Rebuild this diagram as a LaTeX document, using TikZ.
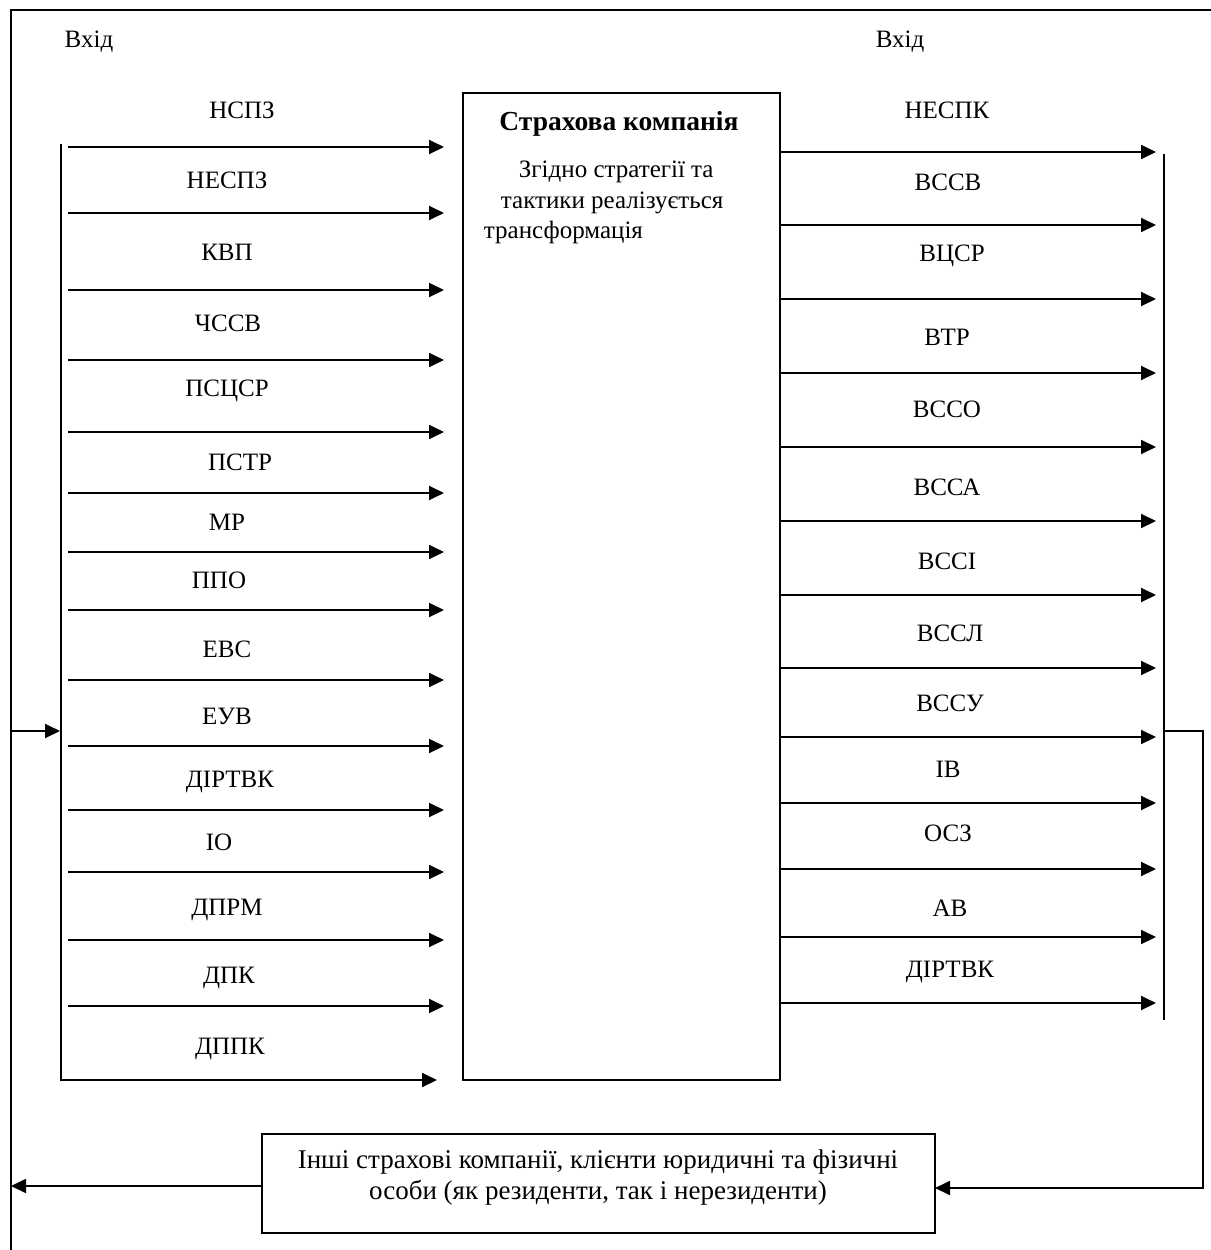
\documentclass[tikz,border=0pt]{standalone}
\usepackage{fontspec}
\setmainfont{Liberation Serif}
\usetikzlibrary{arrows.meta}
\begin{document}
\begin{tikzpicture}[x=1pt,y=-1pt,line width=1.9pt,
  arr/.style={-{Triangle[length=15pt,width=14pt]}},
  lbl/.style={font=\fontsize{25}{31}\selectfont,inner sep=0pt,anchor=base},
  boxst/.style={draw,line width=1.9pt,inner sep=0pt,outer sep=0pt}]
\useasboundingbox (0,0) rectangle (1210,1250);
% outer frame
\coordinate (frR) at (1212,10);
\coordinate (frC) at (11,10);
\coordinate (frB) at (11,1252);
\draw[line width=2.3pt] (frR) -- (frC) -- (frB);
% titles
\node[lbl] (inL) at (89,47) {Вхід};
\node[lbl] (inR) at (900,47) {Вхід};
% central box
\node[boxst,minimum width=317pt,minimum height=987pt,anchor=north west] (sk) at (463,93) {};
\node[lbl,font=\fontsize{27.5}{31}\selectfont\bfseries] (title) at (619,130) {Страхова компанія};
\node[lbl,anchor=base west] (t1) at (518,177) {Згідно стратегії та};
\node[lbl,anchor=base west] (t2) at (500,208) {тактики реалізується};
\node[lbl,anchor=base west] (t3) at (483,238) {трансформація};
% left labels
\foreach \t/\x/\b [count=\i] in {НСПЗ/242/118,НЕСПЗ/227/188,КВП/227/260,ЧССВ/228/331,ПСЦСР/227/396,ПСТР/240/470,МР/227/530,ППО/219/588,ЕВС/227/657,ЕУВ/227/724,ДІРТВК/230/787,ІО/219/850,ДПРМ/227/915,ДПК/229/983,ДППК/230/1054}
  {\node[lbl] (L\i) at (\x,\b) {\t};}
% left arrows
\foreach \y [count=\i] in {147,213,290,360,432,493,552,610,680,746,810,872,940,1006}
  {\coordinate (la\i) at (68,\y); \coordinate (lb\i) at (444,\y);
   \draw[arr] (la\i) -- (lb\i);}
\coordinate (lbusT) at (61,144);
\coordinate (lbusB) at (61,1080);
\coordinate (lbusE) at (437,1080);
\draw[arr] (lbusT) -- (lbusB) -- (lbusE);
% right labels
\foreach \t/\x/\b [count=\i] in {НЕСПК/947/118,ВССВ/948/190,ВЦСР/952/261,ВТР/947/345,ВССО/947/417,ВССА/947/495,ВССІ/947/569,ВССЛ/950/641,ВССУ/950/711,ІВ/948/777,ОСЗ/948/841,АВ/950/916,ДІРТВК/950/977}
  {\node[lbl] (R\i) at (\x,\b) {\t};}
% right arrows
\foreach \y [count=\i] in {152,225,299,373,447,521,595,668,737,803,869,937,1003}
  {\coordinate (ra\i) at (780,\y); \coordinate (rb\i) at (1156,\y);
   \draw[arr] (ra\i) -- (rb\i);}
\coordinate (rbusT) at (1164,154);
\coordinate (rbusB) at (1164,1020);
\draw (rbusT) -- (rbusB);
% bottom box
\node[boxst,minimum width=673pt,minimum height=99pt,anchor=north west] (other) at (262,1134) {};
\node[lbl,font=\fontsize{27}{31}\selectfont] (o1) at (598,1168) {Інші страхові компанії, клієнти юридичні та фізичні};
\node[lbl,font=\fontsize{27}{31}\selectfont] (o2) at (598,1199) {особи (як резиденти, так і нерезиденти)};
% feedback
\coordinate (rJ) at (1164,731);
\coordinate (rC1) at (1203,731);
\coordinate (rC2) at (1203,1188);
\coordinate (oE) at (935,1188);
\draw[arr] (rJ) -- (rC1) -- (rC2) -- (oE);
\coordinate (oW) at (262,1186);
\coordinate (fL) at (11,1186);
\draw[arr] (oW) -- (fL);
\coordinate (fJ) at (11,731);
\coordinate (lJ) at (60,731);
\draw[arr] (fJ) -- (lJ);
\end{tikzpicture}
\end{document}
